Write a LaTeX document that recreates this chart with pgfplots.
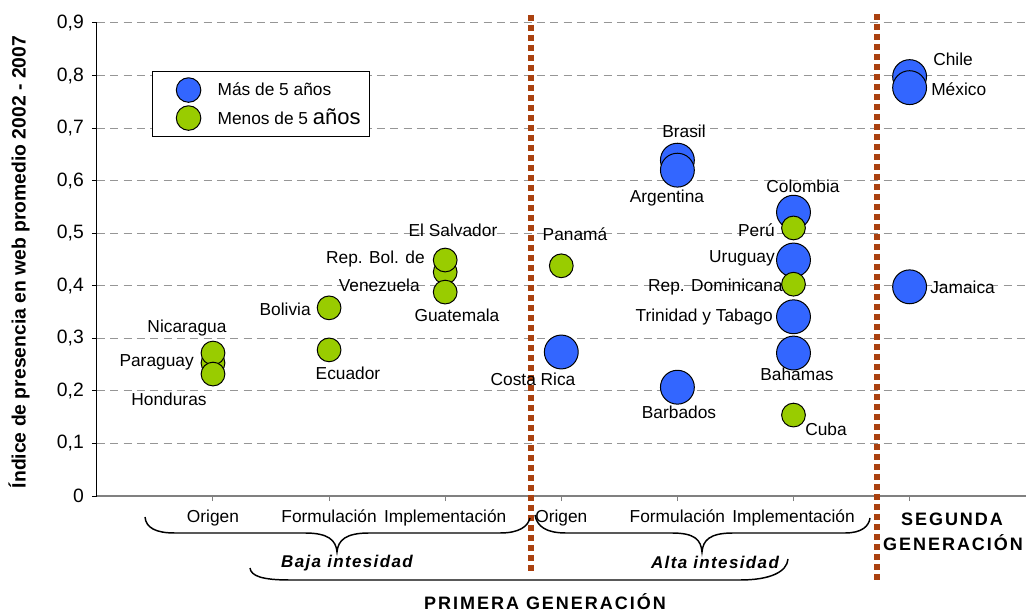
\documentclass[border=0pt]{standalone}
\usepackage{fontspec}
\setmainfont{Liberation Sans}
\newfontfamily\widefont{Liberation Sans}[LetterSpace=8]
\newfontfamily\widerfont{Liberation Sans}[LetterSpace=11]
\usepackage{pgfplots}
\pgfplotsset{compat=1.18}
\definecolor{cblue}{RGB}{51,102,255}
\definecolor{cgreen}{RGB}{153,204,0}
\definecolor{cdot}{RGB}{170,65,15}
\definecolor{cgrid}{RGB}{150,150,150}
\definecolor{caxis}{RGB}{128,128,128}
\pgfplotsset{bubleg/.style={legend image code/.code={\path[draw=none,fill=none] (-20.25pt,-10.5pt) rectangle (21.75pt,10.5pt); \draw[##1] plot coordinates {(0pt,0pt)};}}}
\begin{document}
\begin{tikzpicture}
\path[use as bounding box] (-72.675pt,-88.5pt) rectangle (698.325pt,372pt);
\begin{axis}[
  at={(0pt,0pt)}, anchor=south west, scale only axis,
  width=696.6pt, height=354.75pt,
  xmin=0, xmax=8, ymin=0, ymax=0.9,
  clip=false,
  axis x line=bottom, axis y line=left,
  axis line style={-},
  x axis line style={draw=caxis, line width=1.5pt},
  y axis line style={draw=black, line width=0.75pt},
  tick align=outside,
  major tick length=3.75pt,
  xtick={1,2,3,4,5,6,7},
  xticklabels={Origen,Formulación,Implementación,Origen,Formulación,Implementación,{}},
  ytick={0,0.1,0.2,0.3,0.4,0.5,0.6,0.7,0.8,0.9},
  xtick style={draw=caxis, line width=0.75pt},
  ytick style={draw=black, line width=0.75pt},
  ymajorgrids,
  major grid style={draw=cgrid, line width=0.75pt, dash pattern=on 6pt off 4pt},
  xticklabel style={font=\fontsize{13}{15}\selectfont, yshift=-3pt},
  yticklabel style={font=\fontsize{14.5}{17}\selectfont, /pgf/number format/fixed, /pgf/number format/precision=1, /pgf/number format/use comma, xshift=-2.5pt},
  /pgf/number format/assume math mode=true,
  legend style={at={(0.0594,0.8985)}, anchor=north west, draw=black, line width=0.75pt,
    inner xsep=6.75pt, inner ysep=3.4pt, row sep=0pt, column sep=0pt,
    nodes={inner sep=0pt, font=\fontsize{13}{15}\selectfont}},
  legend cell align=left,
]
\addlegendimage{only marks, mark=*, mark size=9.2pt, mark options={fill=cblue, draw=black, line width=0.75pt}, bubleg}
\addlegendentry{Más de 5 años}
\addlegendimage{only marks, mark=*, mark size=9.2pt, mark options={fill=cgreen, draw=black, line width=0.75pt}, bubleg}
\addlegendentry{Menos de 5 {\fontsize{16.5}{18}\selectfont años}}

% Más de 5 años
\addplot[forget plot, only marks, mark=*, mark size=12.7pt, mark options={fill=cblue, draw=black, line width=0.75pt}]
coordinates {
(4,0.274) % Costa Rica
(5,0.639) % Brasil
(5,0.620) % Argentina
(5,0.207) % Barbados
(6,0.540) % Colombia
(6,0.449) % Uruguay
(6,0.341) % Trinidad y Tabago
(6,0.272) % Bahamas
(7,0.798) % Chile
(7,0.777) % Mexico
(7,0.398) % Jamaica
};
% Menos de 5 años
\addplot[forget plot, only marks, mark=*, mark size=8.9pt, mark options={fill=cgreen, draw=black, line width=0.75pt}]
coordinates {
(1,0.253) % Paraguay
(1,0.272) % Nicaragua
(1,0.232) % Honduras
(2,0.358) % Bolivia
(2,0.278) % Ecuador
(3,0.426) % Venezuela
(3,0.449) % El Salvador
(3,0.388) % Guatemala
(4,0.438) % Panama
(6,0.510) % Peru
(6,0.403) % Rep. Dominicana
(6,0.154) % Cuba
};
\end{axis}
\begin{scope}[shift={(-72.675pt,372pt)}, x=0.75pt, y=-0.75pt,
  lab/.style={inner sep=0pt, font=\fontsize{13}{15}\selectfont}]
% dotted separators
\draw[cdot, line width=4.2pt, dash pattern=on 4.5pt off 3pt] (531,15) -- (531,572);
\draw[cdot, line width=4.2pt, dash pattern=on 4.5pt off 3pt] (877,14) -- (877,580);
% labels
\node[lab] at (187,328) {Nicaragua};
\node[lab, anchor=east] at (194,362) {Paraguay};
\node[lab] at (169,399) {Honduras};
\node[lab, anchor=east] at (311,309) {Bolivia};
\node[lab] at (348,373) {Ecuador};
\node[lab] at (453,230) {El Salvador};
\node[lab, anchor=east] at (425,259) {Rep. Bol. de};
\node[lab, anchor=east] at (420,285) {Venezuela};
\node[lab] at (457,315) {Guatemala};
\node[lab] at (575,234) {Panamá};
\node[lab] at (533,379) {Costa Rica};
\node[lab] at (684,131) {Brasil};
\node[lab] at (667,198) {Argentina};
\node[lab] at (679,412) {Barbados};
\node[lab] at (803,186) {Colombia};
\node[lab, anchor=east] at (775,230) {Perú};
\node[lab, anchor=east] at (775,258) {Uruguay};
\node[lab, anchor=east] at (783,287) {Rep. Dominicana};
\node[lab, anchor=east] at (773,317) {Trinidad y Tabago};
\node[lab] at (797,374) {Bahamas};
\node[lab] at (826,429) {Cuba};
\node[lab, anchor=west] at (933,59) {Chile};
\node[lab, anchor=west] at (931,89) {México};
\node[lab, anchor=west] at (930,287) {Jamaica};
% braces
\draw[line width=1.1pt] (145,517) .. controls (146,528) and (156,533) .. (175,533) -- (305,533) .. controls (328,533) and (336,540) .. (337,552) .. controls (338,540) and (346,533) .. (369,533) -- (500,533) .. controls (520,533) and (528,526) .. (530,518);
\draw[line width=1.1pt] (535,515) .. controls (537,527) and (547,533) .. (566,533) -- (672,533) .. controls (695,533) and (701,540) .. (702,552) .. controls (703,540) and (710,533) .. (733,533) -- (845,533) .. controls (862,533) and (869,526) .. (870,518);
\draw[line width=1.1pt] (250,568) .. controls (251,576) and (262,580) .. (290,580) -- (740,580) .. controls (770,580) and (787,572) .. (788,559);
% group labels
\node[inner sep=0pt, font=\widefont\bfseries\itshape\fontsize{12.75}{15}\selectfont] at (347,563) {Baja intesidad};
\node[inner sep=0pt, font=\widefont\bfseries\itshape\fontsize{12.75}{15}\selectfont] at (715,562) {Alta intesidad};
\node[inner sep=0pt, font=\widerfont\bfseries\fontsize{13.5}{15}\selectfont] at (545,602) {PRIMERA GENERACIÓN};
\node[inner sep=0pt, font=\widerfont\bfseries\fontsize{13.5}{15}\selectfont] at (952,519) {SEGUNDA};
\node[inner sep=0pt, font=\widerfont\bfseries\fontsize{13.5}{15}\selectfont] at (953,543) {GENERACIÓN};
% y label
\node[inner sep=0pt, rotate=90, font=\bfseries\fontsize{14.5}{17}\selectfont] at (19,262) {Índice de presencia en web promedio 2002 - 2007};
\end{scope}
\end{tikzpicture}
\end{document}
